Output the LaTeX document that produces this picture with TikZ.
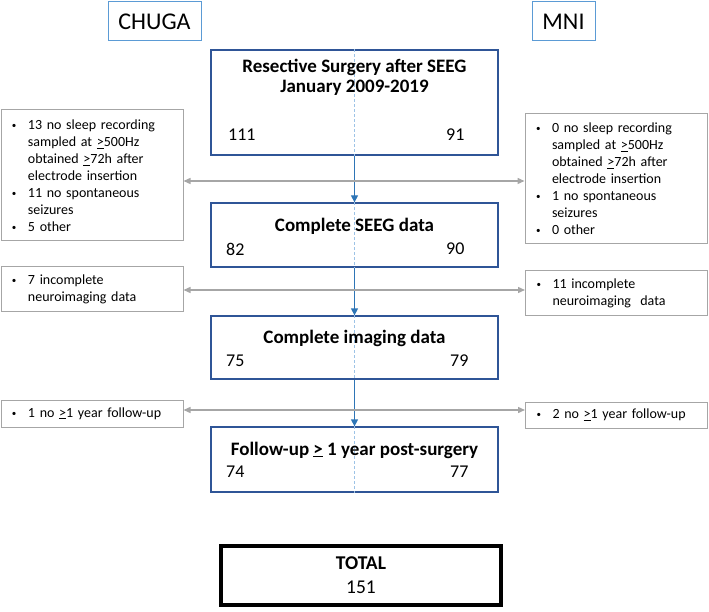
\documentclass[tikz,border=0pt]{standalone}
\usepackage{fontspec}
\setmainfont{Carlito}
\usetikzlibrary{arrows.meta}
\definecolor{dblue}{HTML}{2F5597}
\definecolor{ablue}{HTML}{2E75B6}
\definecolor{lblue}{HTML}{9DC3E6}
\definecolor{hblue}{HTML}{5B9BD5}
\definecolor{sgray}{HTML}{A6A6A6}
\newcommand{\bul}{\makebox[16pt][l]{\raisebox{1pt}{\fontsize{9}{9}\selectfont\textbullet}}}
\newcommand{\ind}{\hspace*{16pt}}
\begin{document}
\begin{tikzpicture}[x=1pt,y=-1pt,
  hdr/.style={draw=hblue, line width=1pt, inner sep=0pt, font=\fontsize{24}{28}\selectfont},
  mainbox/.style={draw=dblue, line width=1.3pt, minimum width=287pt, inner sep=0pt},
  ttl/.style={inner sep=0pt, font=\fontsize{19}{22}\selectfont\bfseries},
  num/.style={inner sep=0pt, anchor=west, font=\fontsize{18}{21}\selectfont},
  sidebox/.style={draw=sgray, line width=1pt, minimum width=182pt, text width=160pt,
    inner xsep=11pt, inner ysep=0pt, align=left, font=\fontsize{14}{17}\selectfont},
  flow/.style={draw=ablue, line width=1.3pt, -{Triangle[length=7pt,width=7pt]}},
  divider/.style={draw=lblue, line width=1pt, dash pattern=on 3pt off 2pt},
  sidearrow/.style={draw=sgray, line width=1.4pt, {Triangle[length=7pt,width=6pt]}-{Triangle[length=7pt,width=6pt]}},
  totalbox/.style={draw=black, line width=4pt, minimum width=280pt, minimum height=59pt, inner sep=0pt},
  bigtxt/.style={inner sep=0pt, font=\fontsize{19.5}{22}\selectfont}
]
\useasboundingbox (0,0) rectangle (709,612);

% headers
\node[hdr, minimum width=93pt, minimum height=39pt] (chuga) at (154.5,21.5) {CHUGA};
\node[hdr, minimum width=63pt, minimum height=39pt] (mni) at (563.5,21.5) {MNI};

% main boxes
\node[mainbox, minimum height=105pt] (b1) at (354.5,102.5) {};
\node[mainbox, minimum height=64pt] (b2) at (354.5,235) {};
\node[mainbox, minimum height=63pt] (b3) at (354.5,347.5) {};
\node[mainbox, minimum height=65pt] (b4) at (354.5,459.5) {};

\draw[divider] (b1.north) -- (b1.south);
\draw[divider] (b2.north) -- (b2.south);
\draw[divider] (b3.north) -- (b3.south);
\draw[divider] (b4.north) -- (b4.south);

\node[ttl] (t1a) at (354.5,67) {Resective Surgery after SEEG};
\node[ttl] (t1b) at (354.5,88) {January 2009-2019};
\node[num] (n1a) at (228,135) {111};
\node[num] (n1b) at (446,135) {91};

\node[ttl] (t2) at (354.5,226) {Complete SEEG data};
\node[num] (n2a) at (226,249) {82};
\node[num] (n2b) at (446,249) {90};

\node[ttl] (t3) at (354.5,338) {Complete imaging data};
\node[num] (n3a) at (226,361) {75};
\node[num] (n3b) at (450,361) {79};

\node[ttl] (t4) at (354.5,450) {Follow-up \underline{>} 1 year post-surgery};
\node[num] (n4a) at (226,472) {74};
\node[num] (n4b) at (450,472) {77};

% flow arrows
\draw[flow] (b1.south) -- (b2.north);
\draw[flow] (b2.south) -- (b3.north);
\draw[flow] (b3.south) -- (b4.north);

% side boxes
\node[sidebox, minimum height=131pt] (l1) at (92,175.5) {\bul 13 no sleep recording\\ \ind sampled at \underline{>}500Hz\\ \ind obtained \underline{>}72h after\\ \ind electrode insertion\\ \bul 11 no spontaneous\\ \ind seizures\\ \bul 5 other};
\node[sidebox, minimum height=44pt] (l2) at (92,289) {\bul 7 incomplete\\ \ind neuroimaging data};
\node[sidebox, minimum height=27pt] (l3) at (92,413.5) {\bul 1 no \underline{>}1 year follow-up};

\node[sidebox, minimum height=130pt] (r1) at (616,179) {\bul 0 no sleep recording\\ \ind sampled at \underline{>}500Hz\\ \ind obtained \underline{>}72h after\\ \ind electrode insertion\\ \bul 1 no spontaneous\\ \ind seizures\\ \bul 0 other};
\node[sidebox, minimum height=44pt] (r2) at (616.5,293) {\bul 11 incomplete\\ \ind neuroimaging\ \ data};
\node[sidebox, minimum height=26pt] (r3) at (616.5,415) {\bul 2 no \underline{>}1 year follow-up};

% side arrows
\coordinate (a1) at (354.5,181);
\coordinate (a2) at (354.5,290);
\coordinate (a3) at (354.5,410);
\draw[sidearrow] (l1.east |- a1) -- (r1.west |- a1);
\draw[sidearrow] (l2.east |- a2) -- (r2.west |- a2);
\draw[sidearrow] (l3.east |- a3) -- (r3.west |- a3);

% total
\node[totalbox] (tot) at (361,575.5) {};
\node[bigtxt, font=\fontsize{19.5}{22}\selectfont\bfseries] (tt) at (361,563) {TOTAL};
\node[bigtxt] (tn) at (361,587) {151};
\end{tikzpicture}
\end{document}
